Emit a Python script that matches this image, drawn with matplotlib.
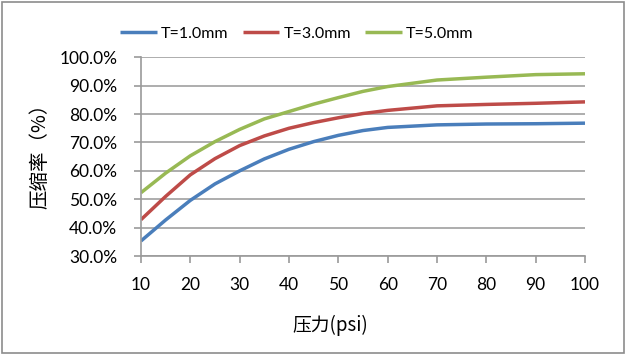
import matplotlib
matplotlib.use('Agg')
import matplotlib.pyplot as plt
from matplotlib.patches import Rectangle
from matplotlib.ticker import FuncFormatter

# 压力 psi, 压缩率 %
pressure = [10, 15, 20, 25, 30, 35, 40, 45, 50, 55, 60, 70, 80, 90, 100]
t10 = [35.3, 42.7, 49.6, 55.4, 60.0, 64.2, 67.6, 70.3, 72.5, 74.2, 75.3, 76.2, 76.5, 76.6, 76.8]
t30 = [42.8, 51.0, 58.6, 64.3, 68.9, 72.3, 75.0, 77.0, 78.7, 80.2, 81.3, 82.9, 83.4, 83.8, 84.3]
t50 = [52.3, 59.2, 65.3, 70.3, 74.6, 78.3, 80.9, 83.5, 85.8, 88.0, 89.7, 92.0, 93.0, 93.9, 94.2]
labels = ['T=1.0mm', 'T=3.0mm', 'T=5.0mm']
colors = ['#4a7ebb', '#be4b48', '#98b954']

tick_font = 'Lato'
cjk = ['Noto Sans CJK SC', 'DejaVu Sans']

fig = plt.figure(figsize=(6.26, 3.54), dpi=100)
ax = fig.add_axes([0.2252, 0.2768, 0.7093, 0.5613])

for ys, lab, c in zip([t10, t30, t50], labels, colors):
    ax.plot(pressure, ys, color=c, lw=2.5, label=lab, solid_capstyle='butt')

ax.set_xlim(10, 100)
ax.set_ylim(30, 100)
ax.set_xticks(range(10, 101, 10))
ax.set_yticks(range(30, 101, 10))
ax.yaxis.set_major_formatter(FuncFormatter(lambda v, p: '%.1f%%' % v))
ax.grid(axis='y', color='#a0a0a0', lw=1.2)
ax.set_axisbelow(True)
for s in ['top', 'right']:
    ax.spines[s].set_visible(False)
for s in ['left', 'bottom']:
    ax.spines[s].set_color('#9a9a9a')
    ax.spines[s].set_linewidth(1.2)
ax.tick_params(axis='both', color='#9a9a9a', length=5, width=1.2, labelsize=12.5)
ax.tick_params(axis='y', pad=12)
ax.tick_params(axis='x', pad=10)
for t in ax.get_xticklabels() + ax.get_yticklabels():
    t.set_fontfamily(tick_font)

# 轴标题位置照原图（x标题偏左）
ax.set_ylabel('压缩率（%）', family=cjk, fontsize=14)
ax.yaxis.set_label_coords(-0.227, 0.528)
ax.set_xlabel('压力(psi)', family=cjk, fontsize=13.5)
ax.xaxis.set_label_coords(0.426, -0.35)
ax.xaxis.label.set_va('center')
ax.yaxis.label.set_va('center')

leg = fig.legend(loc='center', bbox_to_anchor=(0.474, 0.904), ncol=3, frameon=False,
                 prop={'family': tick_font, 'size': 11.5}, handlelength=2.3,
                 handletextpad=0.25, columnspacing=0.9)

fig.patches.append(Rectangle((0.003, 0.004), 0.994, 0.99, transform=fig.transFigure,
                             fill=False, edgecolor='#8c8c8c', lw=1.2))

fig.savefig('out.png', dpi=100)
